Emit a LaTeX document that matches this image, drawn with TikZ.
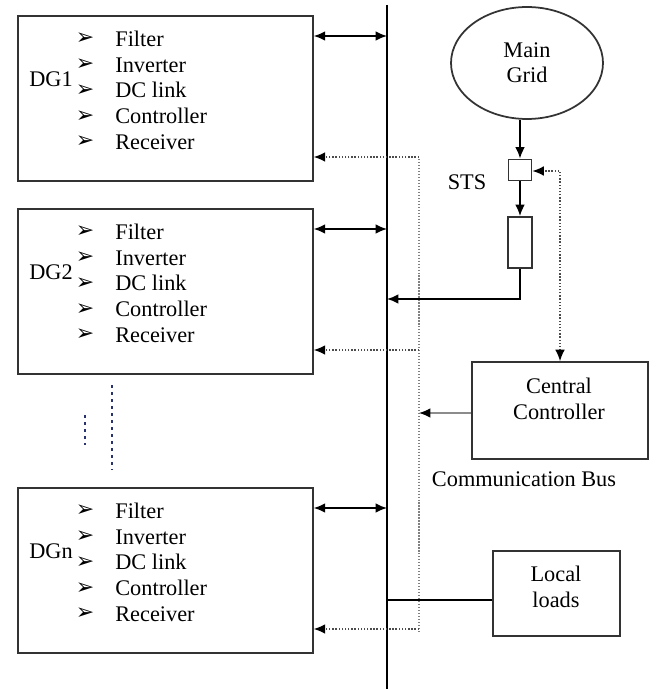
\documentclass[tikz,border=0pt]{standalone}
\usepackage{fontspec}
\setmainfont{Liberation Serif}
\newfontfamily\simbolos{DejaVu Sans}
\usetikzlibrary{shapes.geometric,arrows.meta}

\begin{document}
\begin{tikzpicture}[
    x=0.02cm, y=-0.02cm,
    font=\fontsize{12.7}{14.4}\selectfont,
    % --- BLOQUES: rectangulos grises de borde grueso ---
    bloque/.style={rectangle, draw=black!80, line width=1pt, inner sep=0pt},
    bloqueDG/.style={bloque, minimum width=5.9cm, minimum height=3.3cm},
    vineta/.style={font=\fontsize{12.5}{12.5}\simbolos\bfseries, inner sep=0pt},
    item/.style={anchor=west, inner sep=0pt, text height=8.4pt, text depth=0pt},
    % --- CONEXIONES ---
    punta/.tip={Latex[length=6.5pt, width=5.5pt, black]},
    flechaPotencia/.style={line width=1pt, -punta},
    flechaDoble/.style={line width=1pt, punta-punta},
    flechaSenal/.style={densely dotted, line width=0.8pt, black!70, -punta},
    flechaGris/.style={line width=0.8pt, black!45, -punta},
    puntos/.style={line width=1.2pt, color={rgb,255:red,40;green,50;blue,110}, dash pattern=on 1.6pt off 2.4pt}
]
    \useasboundingbox (0,0) rectangle (656,689);

    % --- BUSES ---
    \coordinate (busArriba) at (387,5);
    \coordinate (busAbajo)  at (387,689);
    \coordinate (comArriba) at (419,159);
    \coordinate (comAbajo)  at (419,632);
    \draw[line width=1.1pt] (busArriba) -- (busAbajo);
    \draw[densely dotted, black!50, line width=0.7pt] (comArriba) -- (comAbajo);

    % --- GENERADORES DG ---
    \foreach \dg/\etiq/\arriba in {dg1/DG1/15, dg2/DG2/208, dgn/DGn/487} {
        \node[bloqueDG, anchor=north west] (\dg) at (17,\arriba) {};
        \node[item] (\dg-etiq) at (29,\arriba+64) {\etiq};
        \foreach \texto [count=\i] in {Filter,Inverter,DC link,Controller,Receiver} {
            \node[vineta] (\dg-v\i) at (85,\arriba-1.75+25.75*\i) {➢};
            \node[item] (\dg-t\i) at (115,\arriba-1.75+25.75*\i) {\texto};
        }
        \coordinate (\dg-bus) at (387,\arriba+21);
        \coordinate (\dg-com) at (419,\arriba+142);
        \draw[flechaDoble] (\dg.east |- \dg-bus) -- (\dg-bus);
        \draw[flechaSenal] (\dg-com) -- (\dg.east |- \dg-com);
    }

    % puntos suspensivos entre DG2 y DGn
    \draw[puntos] (85,415) -- (85,445);
    \draw[puntos] (112,385) -- (112,470);

    % --- RED PRINCIPAL Y STS ---
    \node[ellipse, draw=black!80, line width=1pt, minimum width=3.04cm, minimum height=2.24cm, align=center] (red) at (527,63) {Main\\Grid};
    \node[bloque, minimum width=0.46cm, minimum height=0.42cm] (sts) at (520,170) {};
    \node (stsEtiq) at (467,182) {STS};
    \node[bloque, minimum width=0.48cm, minimum height=1.02cm] (carga) at (520,242.5) {};
    \coordinate (codo) at (520,299);

    \draw[flechaPotencia] (red.south -| sts.north) -- (sts.north);
    \draw[flechaPotencia] (sts) -- (carga);
    \draw[flechaPotencia] (carga.south) |- (busArriba |- codo);

    % --- CONTROLADOR CENTRAL ---
    \node[bloque, minimum width=3.52cm, minimum height=1.94cm] (cc) at (560,410.5) {};
    \node[align=center] (ccTexto) at (559,399) {Central\\Controller};
    \coordinate (ccSts) at (560,171);
    \coordinate (ccCom) at (419,413);
    \draw[flechaSenal, punta-punta] (cc.north) -- (ccSts) -- (sts.east |- ccSts);
    \draw[flechaGris] (cc.west |- ccCom) -- (ccCom);
    \node (comTexto) at (524,479) {Communication Bus};

    % --- CARGAS LOCALES ---
    \node[bloque, minimum width=2.54cm, minimum height=1.7cm] (cargas) at (556.5,593.5) {};
    \node[align=center] (cargasTexto) at (556,587) {Local\\loads};
    \coordinate (cargasBus) at (387,600);
    \draw[line width=0.8pt] (cargasBus) -- (cargas.west |- cargasBus);

\end{tikzpicture}
\end{document}
